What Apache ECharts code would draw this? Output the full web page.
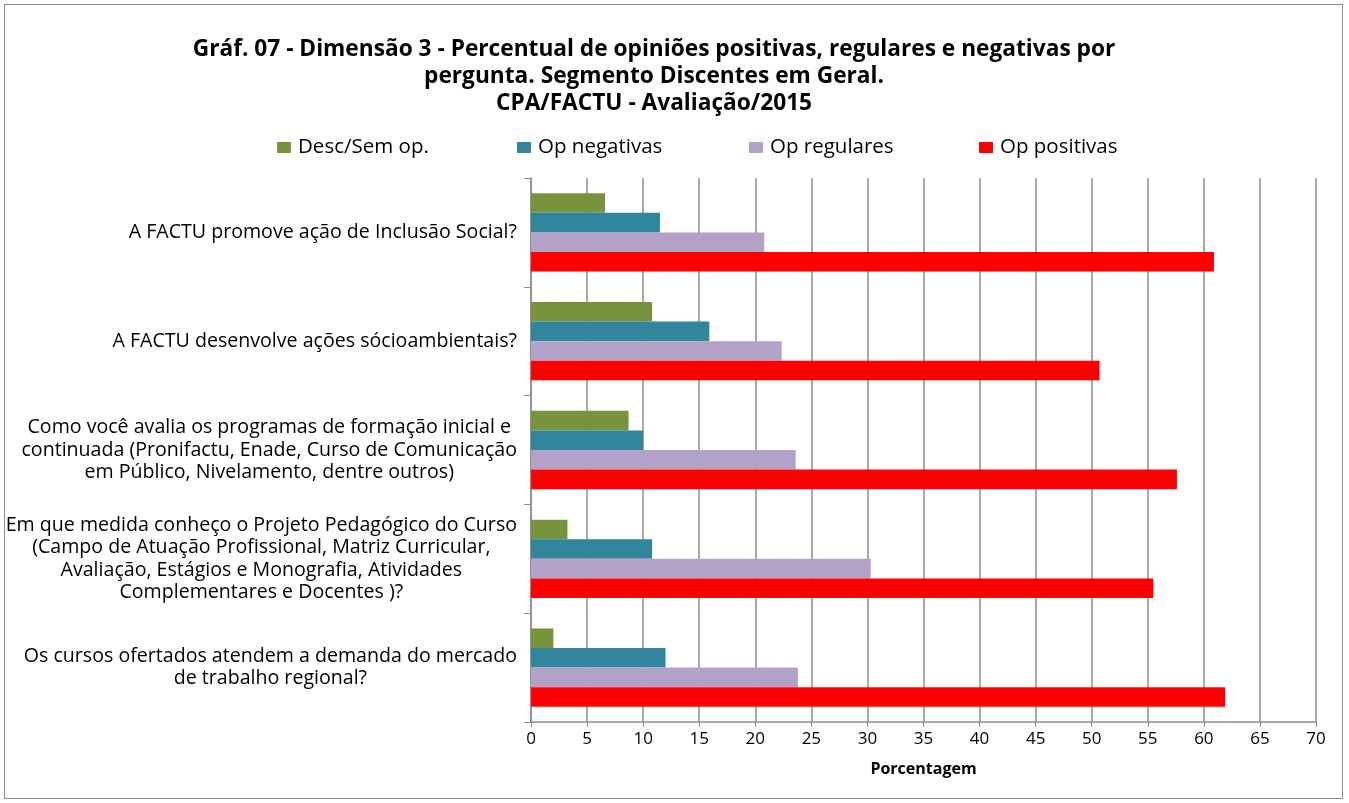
<!DOCTYPE html>
<html><head><meta charset="utf-8">
<script src="https://cdn.jsdelivr.net/npm/echarts@6/dist/echarts.min.js"></script>
<style>html,body{margin:0;padding:0;background:#fff}#c{position:absolute;left:0;top:0;width:1349px;height:803px}
#b{position:absolute;left:4px;top:4px;width:1339px;height:795px;border:1px solid #8c8c8c;box-sizing:border-box;pointer-events:none}</style>
</head><body><div id="c"></div><div id="b"></div>
<script>
const titleText = 'Gráf. 07 - Dimensão 3 - Percentual de opiniões positivas, regulares e negativas por\npergunta. Segmento Discentes em Geral.\nCPA/FACTU - Avaliação/2015';
const categories = [
  'A FACTU promove ação de Inclusão Social?',
  'A FACTU desenvolve ações sócioambientais?',
  'Como você avalia os programas de formação inicial e\ncontinuada (Pronifactu, Enade, Curso de Comunicação\nem Público, Nivelamento, dentre outros)',
  'Em que medida conheço o Projeto Pedagógico do Curso\n(Campo de Atuação Profissional, Matriz Curricular,\nAvaliação, Estágios e Monografia, Atividades\nComplementares e Docentes )?',
  'Os cursos ofertados atendem a demanda do mercado\nde trabalho regional?'
];
const seriesNames = ['Desc/Sem op.', 'Op negativas', 'Op regulares', 'Op positivas'];
const descSemOp   = [6.6, 10.8, 8.7, 3.25, 2.0];
const opNegativas = [11.5, 15.9, 10.0, 10.8, 12.0];
const opRegulares = [20.8, 22.35, 23.6, 30.3, 23.8];
const opPositivas = [60.9, 50.7, 57.6, 55.5, 61.9];
const xTicks = {min: 0, max: 70, interval: 5};
const axisName = 'Porcentagem';

const colors = ['#77933C', '#31859C', '#B3A2C7', '#FF0000'];
const values = [descSemOp, opNegativas, opRegulares, opPositivas];
const legendLefts = [277, 517, 749, 979];
const FONT = 'Open Sans';

const chart = echarts.init(document.getElementById('c'));
chart.setOption({
  animation: false,
  title: {
    text: titleText, left: 649, top: 31, textAlign: 'center',
    textStyle: {fontFamily: FONT, fontSize: 22.7, fontWeight: 'bold', color: '#000', lineHeight: 27}
  },
  legend: seriesNames.map((n, i) => ({
    top: 137, left: legendLefts[i], itemWidth: 14, itemHeight: 11, icon: 'rect', padding: 0,
    textStyle: {fontFamily: FONT, fontSize: 20.5, color: '#000', padding: [0, 0, 0, 2]},
    data: [n]
  })),
  grid: {left: 531, right: 33, top: 178, bottom: 81},
  xAxis: {
    type: 'value', min: xTicks.min, max: xTicks.max, interval: xTicks.interval,
    name: axisName, nameLocation: 'middle', nameGap: 39,
    nameTextStyle: {fontFamily: FONT, fontSize: 16, fontWeight: 'bold', color: '#000'},
    axisLine: {show: true, lineStyle: {color: '#8c8c8c', width: 1.5}},
    axisTick: {show: true, inside: false, length: 5, lineStyle: {color: '#8c8c8c'}},
    axisLabel: {fontFamily: FONT, fontSize: 17, color: '#000', margin: 9},
    splitLine: {show: true, lineStyle: {color: '#8c8c8c', width: 1.5}}
  },
  yAxis: {
    type: 'category', data: categories, inverse: true,
    axisLine: {show: true, lineStyle: {color: '#8c8c8c', width: 1.5}},
    axisTick: {show: true, length: 7, lineStyle: {color: '#8c8c8c'}},
    axisLabel: {
      margin: 14, align: 'right', fontFamily: FONT, fontSize: 19.6, color: '#000', lineHeight: 22.5,
      formatter: v => v.split('\n').map(l => '{c|' + l + '}').join('\n'),
      rich: {c: {align: 'center', fontFamily: FONT, fontSize: 19.6, color: '#000', lineHeight: 22.5}}
    },
    splitLine: {show: false}
  },
  series: seriesNames.map((n, i) => ({
    name: n, type: 'bar', data: values[i], barGap: '0%', barCategoryGap: '28%',
    itemStyle: {color: colors[i]}
  }))
});
</script></body></html>
